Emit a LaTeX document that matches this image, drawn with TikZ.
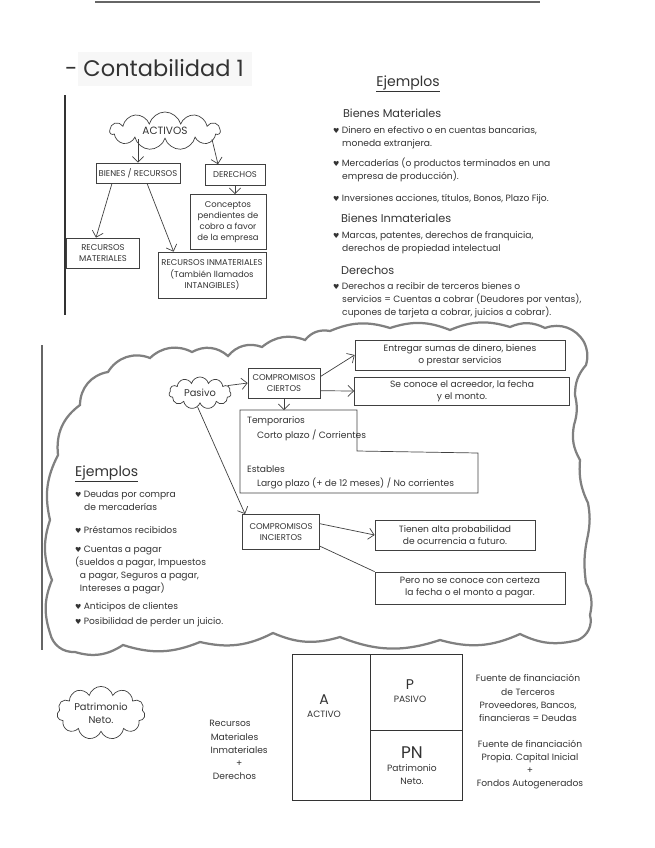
\documentclass[tikz,border=0pt]{standalone}
\usepackage{fontspec}
\setmainfont{Poppins}
\newfontfamily\symfont{DejaVu Sans}
\usetikzlibrary{positioning,arrows.meta,shapes.symbols,calc}
\newcommand{\vin}{{\symfont\fontsize{5}{5}\selectfont ♥}\ }

\begin{document}
\begin{tikzpicture}[x=0.025cm,y=-0.025cm,
    every node/.style={font=\fontsize{6.5}{9.3}\selectfont,text=black!80,inner sep=2pt},
    caja/.style={rectangle,draw=black!75,line width=0.5pt,align=center,
                 inner sep=2pt,font=\fontsize{6}{8}\selectfont},
    nube/.style={cloud,cloud puffs=11,cloud ignores aspect,draw=black!75,
                 line width=0.5pt,align=center},
    flecha/.style={-{Straight Barb[length=1.4mm]},draw=black!75,line width=0.5pt},
    nota/.style={anchor=north west,align=left},
    titulo/.style={font=\fontsize{8}{10}\selectfont,anchor=west},
    celda/.style={rectangle,draw=black!80,line width=0.6pt,inner sep=0pt},
    borde/.style={draw=black!50,line width=1.6pt},
]
    \useasboundingbox (0,0) rectangle (655,848);
    \fill[black!3] (78,52) rectangle (252,86);
    \draw[black!60,line width=2pt] (95,2) -- (540,2);
    \draw[black!80,line width=0.9pt] (65,95) -- (65,315);
    \draw[black!60,line width=2pt] (42,345) -- (42,650);

    \node[anchor=west,font=\fontsize{16}{18}\selectfont] (tit) at (62,68) {- Contabilidad 1};

    % activos
    \node[nube,minimum width=2.75cm,minimum height=0.95cm,font=\fontsize{7.5}{9}\selectfont] (activos) at (165,131) {ACTIVOS};
    \node[caja,minimum width=2.08cm,minimum height=0.5cm] (bienes) at (138,173) {BIENES / RECURSOS};
    \node[caja,minimum width=1.5cm,minimum height=0.52cm] (derechos) at (235,175) {DERECHOS};
    \node[caja,minimum width=1.9cm,minimum height=1.38cm] (conceptos) at (228,222) {Conceptos\\pendientes de\\cobro a favor\\de la empresa};
    \node[caja,minimum width=1.83cm,minimum height=0.75cm] (materiales) at (103,253) {RECURSOS\\MATERIALES};
    \node[caja,minimum width=2.7cm,minimum height=1.15cm] (inmateriales) at (212,275) {RECURSOS INMATERIALES\\(También llamados\\INTANGIBLES)};

    \draw[flecha] (bienes.north |- activos.south) -- (bienes.north);
    \draw[flecha] ($(activos.south)+(47,0)$) -- ($(derechos.north)+(-17,0)$);
    \draw[flecha] (derechos.south) -- (derechos.south |- conceptos.north);
    \draw[flecha] ($(bienes.south)+(-26,0)$) -- ($(materiales.north)+(-7,0)$);
    \draw[flecha] ($(bienes.south)+(9,0)$) -- ($(inmateriales.north west)+(16,0)$);

    % ejemplos activos
    \node[font=\fontsize{10}{12}\selectfont] (ejA) at (408,84) {\underline{Ejemplos}};
    \node[titulo] (bm) at (340,113) {Bienes Materiales};
    \node[nota] (bm1) at (330,123) {\vin Dinero en efectivo o en cuentas bancarias,\\\quad moneda extranjera.};
    \node[nota] (bm2) at (330,155) {\vin Mercaderías (o productos terminados en una\\\quad empresa de producción).};
    \node[nota] (bm3) at (330,191) {\vin Inversiones acciones, títulos, Bonos, Plazo Fijo.};
    \node[titulo] (bi) at (338,218) {Bienes Inmateriales};
    \node[nota] (bi1) at (330,228) {\vin Marcas, patentes, derechos de franquicia,\\\quad derechos de propiedad intelectual};
    \node[titulo] (de) at (338,270) {Derechos};
    \node[nota] (de1) at (330,279) {\vin Derechos a recibir de terceros bienes o\\\quad servicios = Cuentas a cobrar (Deudores por ventas),\\\quad cupones de tarjeta a cobrar, juicios a cobrar).};

    % nube pasivo
    \draw[borde] (58,455) to[bend left=30] (80,405) to[bend left=40] (108,372)
        to[bend left=40] (150,358) to[bend left=35] (192,352) to[bend left=35] (228,356)
        to[bend left=35] (262,347) to[bend left=30] (305,340) to[bend left=30] (330,331)
        to[bend left=20] (390,328) to[bend left=20] (450,330) to[bend left=20] (510,327)
        to[bend left=25] (545,328) to[bend left=40] (584,342)
        to[bend left=20] (586,365) to[bend right=20] (575,395) to[bend left=15] (574,425)
        to[bend right=20] (580,460) to[bend right=15] (588,503) to[bend left=10] (588,535)
        to[bend right=10] (586,583) to[bend left=20] (590,615) to[bend left=40] (578,640)
        to[bend left=20] (520,634) to[bend left=20] (440,640) to[bend left=20] (340,637)
        to[bend left=20] (273,633) to[bend left=20] (200,642) to[bend left=20] (123,645)
        to[bend left=25] (75,652) to[bend left=40] (50,633)
        to[bend left=20] (52,580) to[bend left=20] (50,520) to[bend left=20] cycle;

    \node[nube,minimum width=1.55cm,minimum height=0.8cm,font=\fontsize{7}{8}\selectfont] (pasivo) at (200,393) {Pasivo};
    \node[caja,minimum width=1.8cm,minimum height=0.75cm] (ciertos) at (284,383) {COMPROMISOS\\CIERTOS};
    \node[caja,minimum width=5.25cm,minimum height=0.75cm,font=\fontsize{6.5}{8.5}\selectfont] (entregar) at (460,355) {Entregar sumas de dinero, bienes\\o prestar servicios};
    \node[caja,minimum width=5.38cm,minimum height=0.7cm,font=\fontsize{6.5}{8.5}\selectfont] (seconoce) at (462,391) {Se conoce el acreedor, la fecha\\y el monto.};
    \node[caja,minimum width=1.93cm,minimum height=0.88cm] (inciertos) at (281,532) {COMPROMISOS\\INCIERTOS};
    \node[caja,minimum width=4cm,minimum height=0.75cm,font=\fontsize{6.5}{8.5}\selectfont] (tienen) at (455,535) {Tienen alta probabilidad\\de ocurrencia a futuro.};
    \node[caja,minimum width=4.75cm,minimum height=0.8cm,font=\fontsize{6.5}{8.5}\selectfont] (pero) at (470,588) {Pero no se conoce con certeza\\la fecha o el monto a pagar.};

    \coordinate (plazos) at (288,410);
    \draw[black!75,line width=0.5pt] (240,410) -- (357,410) -- (357,451) -- (478,453)
        -- (478,493) -- (240,493) -- cycle;
    \node[anchor=west] (temp) at (244,421) {Temporarios};
    \node[anchor=west] (corto) at (254,435) {Corto plazo / Corrientes};
    \node[anchor=west] (estab) at (244,469) {Estables};
    \node[anchor=west] (largo) at (254,483) {Largo plazo (+ de 12 meses) / No corrientes};

    \draw[flecha] (pasivo.15) -- (ciertos.west);
    \draw[flecha] (ciertos.10) -- (entregar.west);
    \draw[flecha] (ciertos.-12) -- (seconoce.west);
    \draw[flecha] (ciertos.south) -- (ciertos.south |- plazos);
    \draw[flecha] (pasivo.260) -- ($(inciertos.north west)+(3,0)$);
    \draw[flecha] (inciertos.12) -- (tienen.west);
    \draw[black!75,line width=0.5pt] (inciertos.-20) -- (pero.north west);

    % ejemplos pasivo
    \node[font=\fontsize{10}{12}\selectfont,anchor=west] (ejP) at (72,474) {\underline{Ejemplos}};
    \node[nota] (p1) at (72,488) {\vin Deudas por compra\\\quad de mercaderías};
    \node[nota] (p2) at (72,523) {\vin Préstamos recibidos};
    \node[nota] (p3) at (72,543) {\vin Cuentas a pagar\\(sueldos a pagar, Impuestos\\\ \ a pagar, Seguros a pagar,\\\ \ Intereses a pagar)};
    \node[nota] (p4) at (72,599) {\vin Anticipos de clientes};
    \node[nota] (p5) at (72,614) {\vin Posibilidad de perder un juicio.};

    % patrimonio
    \node[nube,minimum width=1.9cm,minimum height=1.13cm,font=\fontsize{7}{9}\selectfont] (patri) at (101,713) {Patrimonio\\Neto.};
    \node[align=center] (recursos) at (230,750) {Recursos\\\quad Materiales\\\qquad Inmateriales\\\qquad +\\\quad Derechos};

    \node[celda,minimum width=1.95cm,minimum height=3.63cm] (cA) at (331,727.5) {};
    \node[celda,minimum width=2.3cm,minimum height=1.88cm] (cP) at (416,692.5) {};
    \node[celda,minimum width=2.3cm,minimum height=1.75cm] (cPN) at (416,765) {};
    \node[align=center] (tA) at (324,706) {{\fontsize{10}{11}\selectfont A}\\ACTIVO};
    \node[align=center] (tP) at (410,691) {{\fontsize{10}{11}\selectfont P}\\PASIVO};
    \node[align=center] (tPN) at (412,766) {{\fontsize{12}{13}\selectfont PN}\\Patrimonio\\Neto.};

    \node[align=center] (ter) at (528,698) {Fuente de financiación\\de Terceros\\Proveedores, Bancos,\\financieras = Deudas};
    \node[align=center] (pro) at (530,765) {Fuente de financiación\\Propia. Capital Inicial\\+\\Fondos Autogenerados};
\end{tikzpicture}
\end{document}
